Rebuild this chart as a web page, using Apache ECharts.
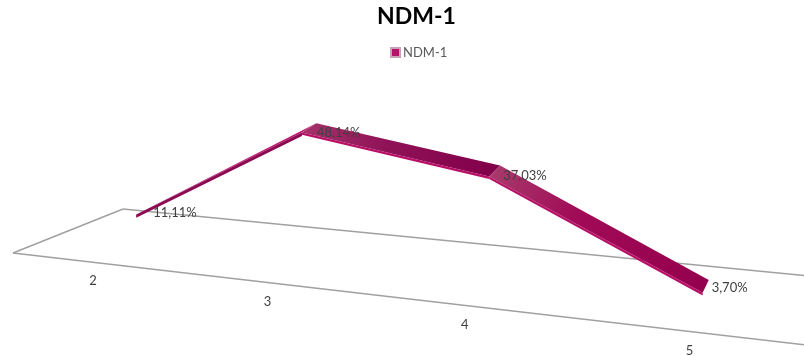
<!DOCTYPE html>
<html>
<head>
<meta charset="utf-8">
<style>html,body{margin:0;padding:0;background:#fff}#chart{width:804px;height:356px}</style>
<script src="https://cdn.jsdelivr.net/npm/echarts@6/dist/echarts.min.js"></script>
</head>
<body>
<div id="chart"></div>
<script>
// Percentages per category for the NDM-1 series
const seriesName = 'NDM-1';
const categories = ['2', '3', '4', '5'];
const values = [11.11, 48.14, 37.03, 3.70];
const valueLabels = ['11,11%', '48,14%', '37,03%', '3,70%'];

const FONT = 'Lato, "Open Sans", sans-serif';
const TEXT = '#404040';

// Floor of the pseudo-3D scene: front/back, left/right corners
const FL = [13, 253], FR = [814, 346], BL = [123, 209], BR = [830, 278];
const lerp = (a, b, k) => a + (b - a) * k;

// Foreshortening along the category direction (u runs over 0..4)
const warp = u => 0.194 * u / (1 - 0.056 * u);

// Projects category position, depth (0 front .. 1 back) and value height to the screen
function project(u, depth, h) {
  const t = warp(u);
  const x = lerp(lerp(FL[0], FR[0], t), lerp(BL[0], BR[0], t), depth);
  const y = lerp(lerp(FL[1], FR[1], t), lerp(BL[1], BR[1], t), depth);
  return [x, y - h * (2.45 + 0.65 * t)];
}

// Flat cartesian position from the axes, converted to scene coordinates
function scenePoint(api, cs, i, v) {
  const p = api.coord([i, v]);
  return {
    u: (p[0] - cs.x) / cs.width * categories.length,
    h: (cs.y + cs.height - p[1]) / cs.height * 100
  };
}

const FRONT_DEPTH = 0.43;
const ribbonDepth = [0.03, 0.18, 0.19, 0.2];
const THICKNESS = 1.0;

// Face shading of the ribbon, one entry per segment
const topFaces = [
  [['0', '#c2166e'], ['1', '#c2166e']],
  [['0', '#a5326a'], ['0.45', '#8f1257'], ['1', '#82004a']],
  [['0', '#a83a6c'], ['0.4', '#a00a56'], ['1', '#95004e']]
];
const sideFaces = ['#8c0a52', '#b80e66', '#b80e66'];
const sideThickness = [1.3, 0.9, 0.9];

// Label placement relative to each point
const labelDx = [17, 15, 14, 9];
const labelDy = [-2, 0, -1, -5];

function poly(points, fill, z2) {
  return { type: 'polygon', z2, shape: { points }, style: { fill, stroke: null } };
}

function renderRibbon(params, api) {
  const cs = params.coordSys;
  const i = params.dataIndex;
  const a = scenePoint(api, cs, i, values[i]);
  const fa = project(a.u, FRONT_DEPTH, a.h);
  const children = [];

  if (i < values.length - 1) {
    const b = scenePoint(api, cs, i + 1, values[i + 1]);
    const fb = project(b.u, FRONT_DEPTH, b.h);
    const ba = project(a.u, FRONT_DEPTH + ribbonDepth[i], a.h);
    const bb = project(b.u, FRONT_DEPTH + ribbonDepth[i + 1], b.h);
    const drop = THICKNESS * sideThickness[i];
    const la = project(a.u, FRONT_DEPTH, a.h - drop);
    const lb = project(b.u, FRONT_DEPTH, b.h - drop);
    const top = new echarts.graphic.LinearGradient(
      fa[0], fa[1], fb[0], fb[1],
      topFaces[i].map(s => ({ offset: +s[0], color: s[1] })),
      true
    );
    children.push(poly([fa, fb, bb, ba], top, 1));
    children.push(poly([fa, fb, lb, la], sideFaces[i], 2));
  }

  // Value label to the right of the point
  children.push({
    type: 'text',
    z2: 10,
    style: {
      x: fa[0] + labelDx[i],
      y: fa[1] + labelDy[i],
      text: valueLabels[i],
      fill: TEXT,
      font: '13px ' + FONT,
      textAlign: 'left',
      textVerticalAlign: 'middle'
    }
  });
  return { type: 'group', children };
}

function renderFloor(params) {
  const n = categories.length;
  const corners = [project(0, 0, 0), project(0, 1, 0), project(n, 1, 0), project(n, 0, 0)];
  const line = (a, b) => ({
    type: 'line',
    shape: { x1: a[0], y1: a[1], x2: b[0], y2: b[1] },
    style: { stroke: '#a0a0a0', lineWidth: 1.5 }
  });
  return {
    type: 'group',
    children: [line(corners[0], corners[1]), line(corners[1], corners[2]), line(corners[3], corners[0])]
  };
}

function renderTick(params, api) {
  const cs = params.coordSys;
  const i = params.dataIndex;
  const p = scenePoint(api, cs, i, 0);
  const f = project(p.u, 0, 0);
  return {
    type: 'text',
    style: {
      x: f[0],
      y: f[1] + 19,
      text: categories[i],
      fill: TEXT,
      font: '13px ' + FONT,
      textAlign: 'center',
      textVerticalAlign: 'middle'
    }
  };
}

const chart = echarts.init(document.getElementById('chart'), null, { renderer: 'canvas' });
chart.setOption({
  animation: false,
  backgroundColor: '#fff',
  title: {
    text: seriesName,
    left: 372,
    top: 0,
    textStyle: { fontFamily: FONT, fontWeight: 'bold', fontSize: 23, color: '#000' }
  },
  legend: {
    data: [seriesName],
    left: 385,
    top: 41,
    icon: 'rect',
    itemWidth: 9,
    itemHeight: 9,
    itemGap: 3,
    textStyle: { fontFamily: FONT, fontSize: 13, color: '#595959', padding: [0, 0, 0, -2] }
  },
  grid: { left: 0, right: 0, top: 0, bottom: 0 },
  xAxis: { type: 'category', data: categories, show: false },
  yAxis: { type: 'value', min: 0, max: 100, interval: 20, show: false },
  series: [
    {
      name: 'floor',
      type: 'custom',
      coordinateSystem: 'cartesian2d',
      renderItem: renderFloor,
      data: [[0, 0]],
      silent: true,
      z: 1
    },
    {
      name: 'ticks',
      type: 'custom',
      coordinateSystem: 'cartesian2d',
      renderItem: renderTick,
      data: categories.map((c, i) => [i, 0]),
      silent: true,
      z: 1
    },
    {
      name: seriesName,
      type: 'custom',
      coordinateSystem: 'cartesian2d',
      renderItem: renderRibbon,
      data: values.map((v, i) => [i, v]),
      itemStyle: { color: '#b5106a', borderColor: '#c9a0b6', borderWidth: 0.5 },
      clip: false,
      z: 2
    }
  ]
});
</script>
</body>
</html>
